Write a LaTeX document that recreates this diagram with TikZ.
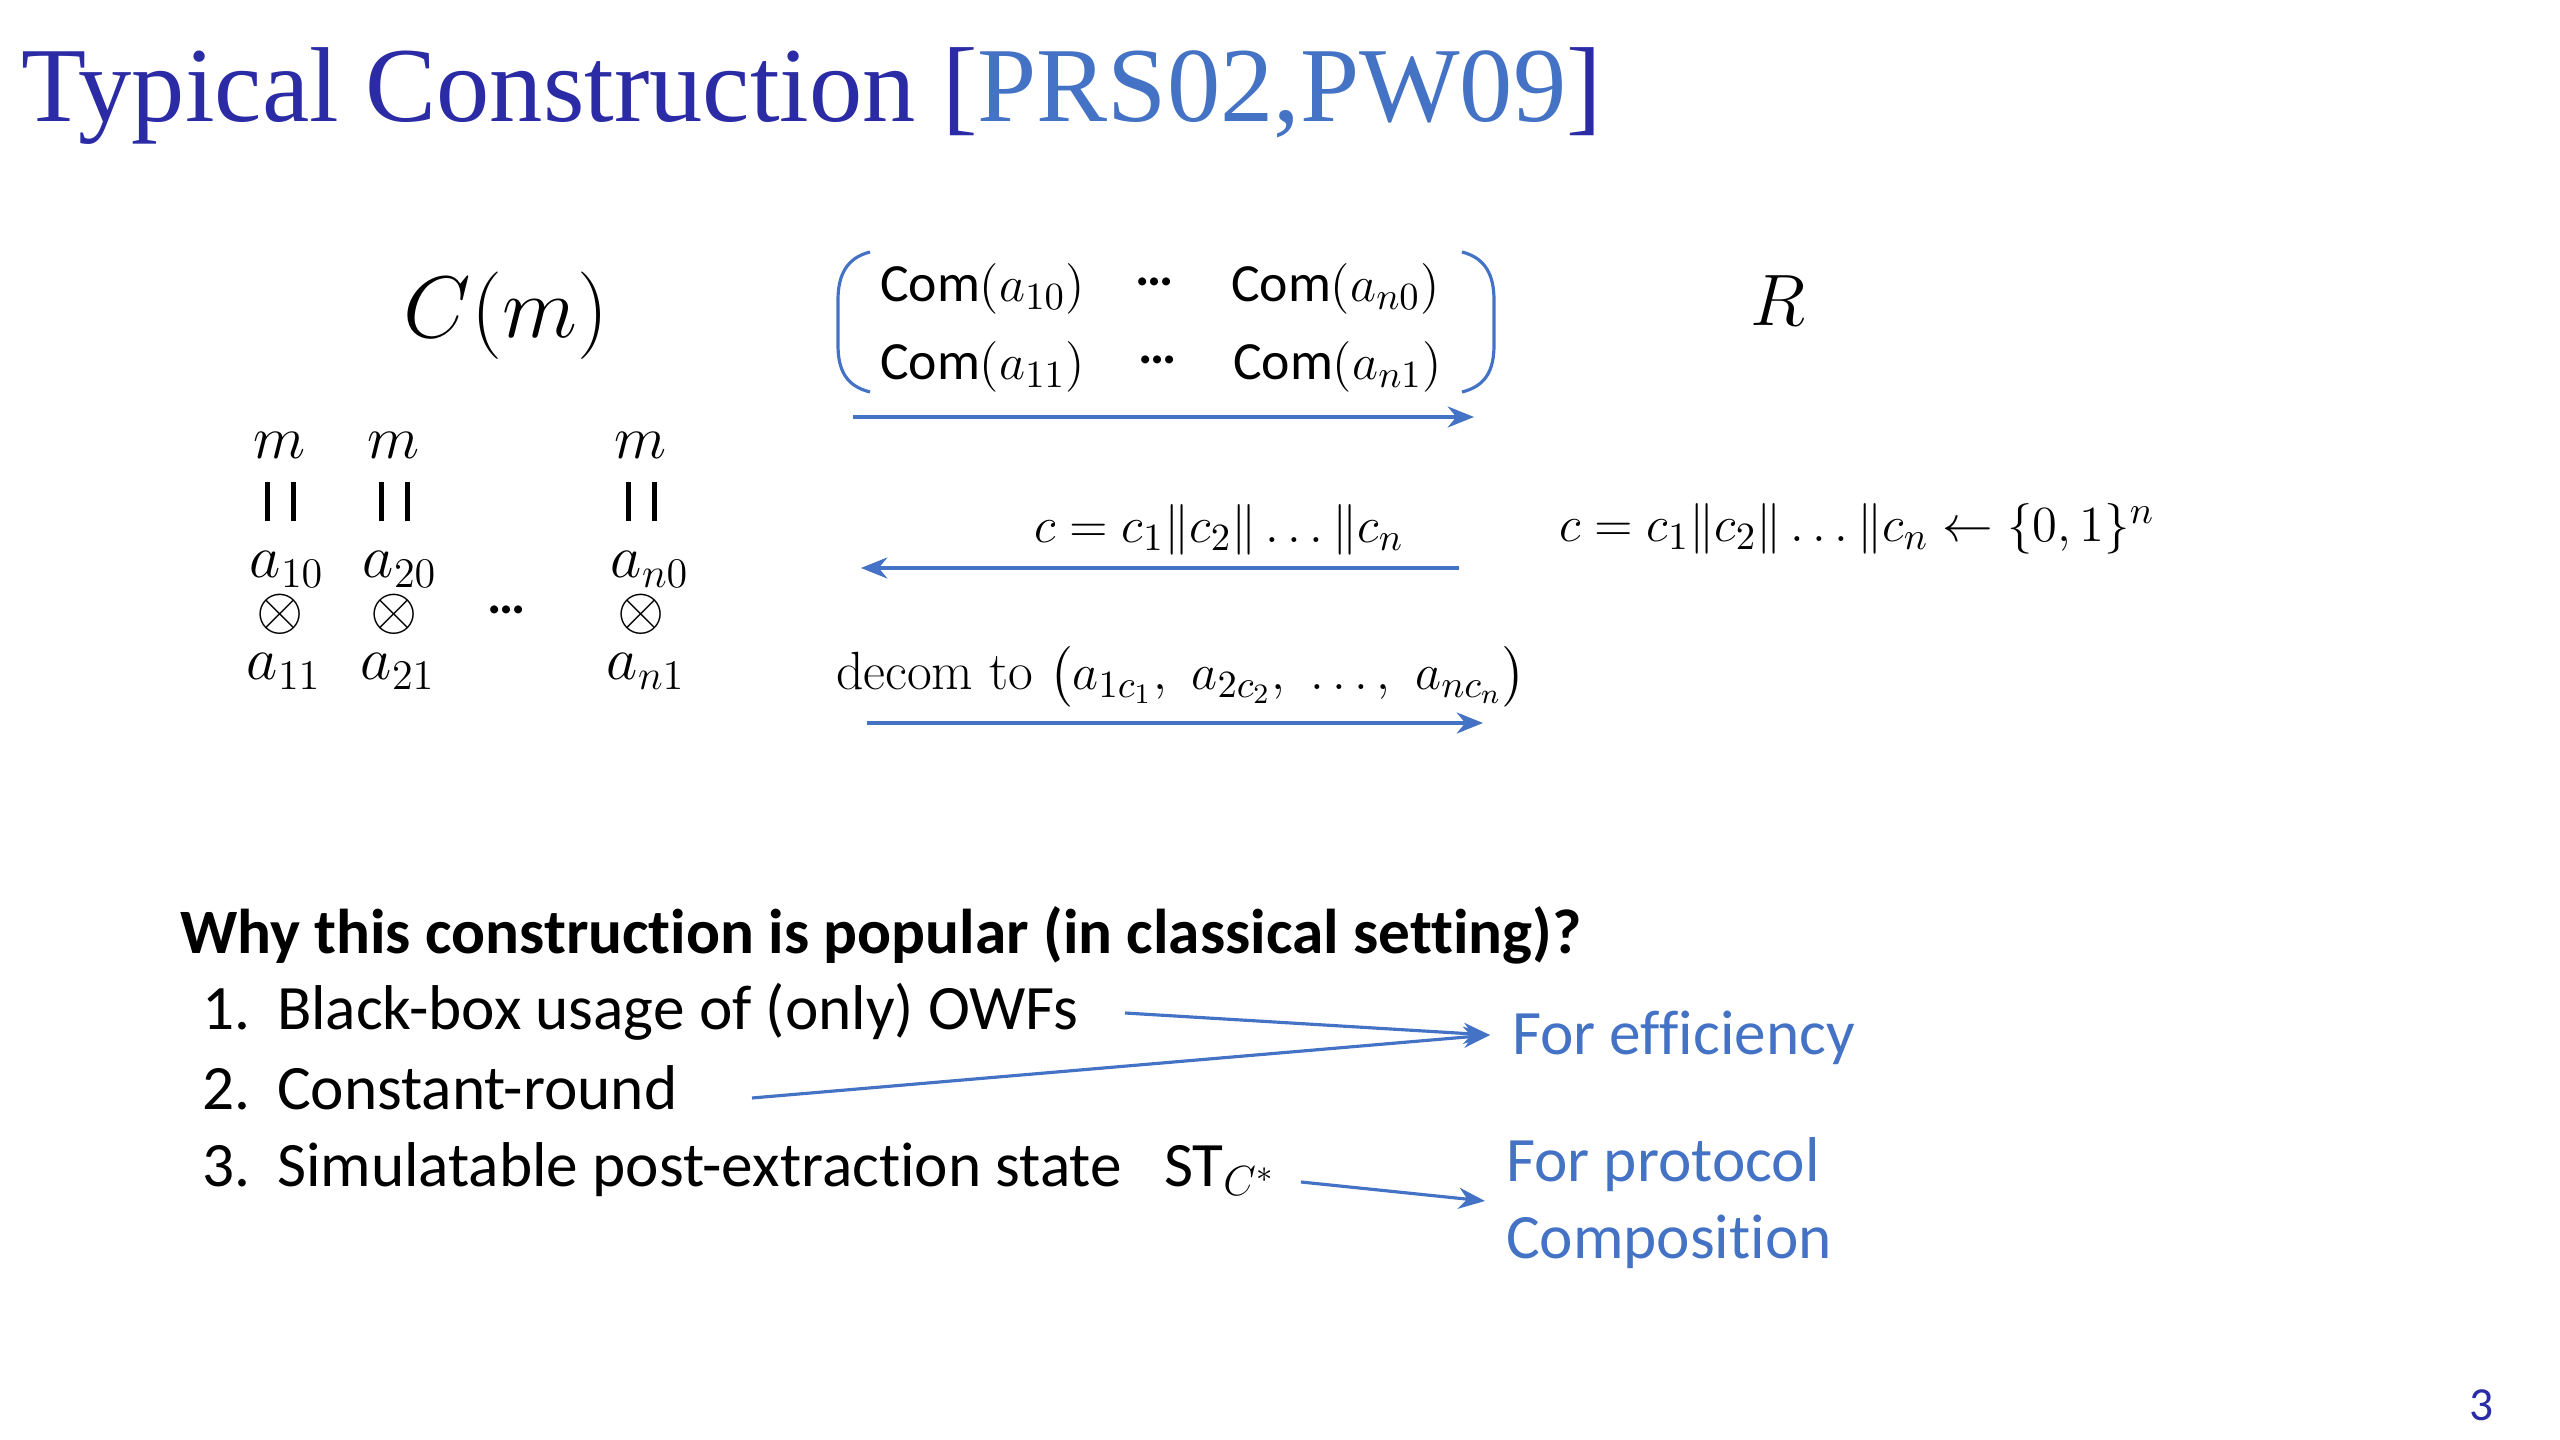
\documentclass[tikz,border=0pt]{standalone}
\usepackage[no-math]{fontspec}
\usepackage{amsmath}
\usetikzlibrary{arrows.meta}
\newfontfamily\titlefont{Liberation Serif}
\newfontfamily\calibfont[Ligatures={NoCommon}]{Carlito}
\definecolor{titleblue}{HTML}{2B2BA6}
\definecolor{refblue}{HTML}{4472C4}
\newcommand{\Com}{\text{\calibfont Com}}
\newcommand{\fsz}[1]{\fontsize{#1}{#1}\selectfont}
\newcommand{\mydots}{\raisebox{0.3em}{\calibfont\bfseries …}}
\begin{document}
\begin{tikzpicture}[x=0.1mm,y=-0.1mm,
  lbl/.style={inner sep=0pt, outer sep=0pt},
  col/.style={lbl, anchor=base, font=\fsz{17}},
  mid/.style={lbl, font=\fsz{15.3}},
  bottomtxt/.style={lbl, anchor=base west, font=\calibfont\fsz{18}},
  bluetxt/.style={bottomtxt, text=refblue},
  flow/.style={draw=refblue, line width=0.9pt, -{Stealth[length=7.5pt,width=6pt]}},
  brk/.style={draw=refblue, line width=0.9pt}]
\useasboundingbox (0,0) rectangle (2560,1440);

% title
\node[lbl, anchor=base west, font=\titlefont\fsz{30.3}, text=titleblue] (title) at (21,122)
  {Typical Construction [\textcolor{refblue}{PRS02,PW09}]};

% parties
\node[lbl, anchor=base, font=\fsz{23.5}] (cm) at (506,338) {$C(m)$};
\node[lbl, anchor=base, font=\fsz{21}] (r) at (1778,326) {$R$};

% commitment matrix
\node[mid, anchor=base west] (c10) at (880,302) {$\Com(a_{10})$};
\node[mid, anchor=base] (d0) at (1155,302) {\mydots};
\node[mid, anchor=base west] (cn0) at (1231,302) {$\Com(a_{n0})$};
\node[mid, anchor=base west] (c11) at (880,380) {$\Com(a_{11})$};
\node[mid, anchor=base] (d1) at (1158,380) {\mydots};
\node[mid, anchor=base west] (cn1) at (1233,380) {$\Com(a_{n1})$};
\draw[brk] (870,252) .. controls (846,258) and (838,276) .. (838,300) -- (838,345)
  .. controls (838,370) and (846,386) .. (870,392);
\draw[brk] (1462,252) .. controls (1486,258) and (1494,276) .. (1494,300) -- (1494,345)
  .. controls (1494,370) and (1486,386) .. (1462,392);

% column of shares
\foreach \x/\nm in {280/1,394/2,641/3} {
  \node[col] (m\nm) at (\x,459) {$m$};
  \node[lbl] (eq\nm) at (\x,502) {\rule{0.5mm}{3.9mm}\hspace{2.1mm}\rule{0.5mm}{3.9mm}};
  \node[lbl, anchor=base, font=\fsz{16.5}] (ot\nm) at (\x,630) {$\smash{\otimes}$};
}
\node[col] (a10) at (287,578) {$a_{10}$};
\node[col] (a20) at (400,578) {$a_{20}$};
\node[col] (an0) at (650,578) {$a_{n0}$};
\node[col] (a11) at (284,680) {$a_{11}$};
\node[col] (a21) at (398,680) {$a_{21}$};
\node[col] (an1) at (646,680) {$a_{n1}$};
\node[lbl, anchor=base, font=\fsz{15.3}] (cdots) at (507,630) {\mydots};

% messages
\coordinate (a1s) at (853,417);
\coordinate (a1e) at (1474,417);
\draw[flow] (a1s) -- (a1e);

\node[mid, anchor=base west] (chal) at (1034,543) {$c=c_1\|c_2\|\ldots\|c_n$};
\node[mid, anchor=base west] (samp) at (1559,542) {$c=c_1\|c_2\|\ldots\|c_n\leftarrow\{0,1\}^n$};
\coordinate (a2s) at (1459,568);
\coordinate (a2e) at (861,568);
\draw[flow] (a2s) -- (a2e);

\node[mid, anchor=base west] (decom) at (836,690)
  {decom to $\bigl(a_{1c_1},\ a_{2c_2},\ \ldots,\ a_{nc_n}\bigr)$};
\coordinate (a3s) at (867,723);
\coordinate (a3e) at (1483,723);
\draw[flow] (a3s) -- (a3e);

% bottom list
\node[bottomtxt, font=\calibfont\bfseries\fsz{18}] (why) at (180,954)
  {Why this construction is popular (in classical setting)?};
\node[bottomtxt] (n1) at (202,1030) {1.};
\node[bottomtxt] (i1) at (277,1030) {Black-box usage of (only) OWFs};
\node[bottomtxt] (n2) at (202,1109) {2.};
\node[bottomtxt] (i2) at (277,1109) {Constant-round};
\node[bottomtxt] (n3) at (202,1186) {3.};
\node[bottomtxt] (i3) at (277,1186) {Simulatable post-extraction state};
\node[bottomtxt] (st) at (1164,1186) {ST$_{C^*}$};

\node[bluetxt] (eff) at (1512,1055) {For efficiency};
\node[bluetxt] (prot) at (1506,1181) {For protocol};
\node[bluetxt] (comp) at (1506,1259) {Composition};

\coordinate (b1s) at (1125,1013);
\coordinate (b2s) at (752,1098);
\coordinate (bt) at (1490,1035);
\coordinate (b3s) at (1301,1182);
\coordinate (b3e) at (1485,1201);
\draw[flow] (b1s) -- (bt);
\draw[flow] (b2s) -- (bt);
\draw[flow] (b3s) -- (b3e);

% page number
\node[lbl, anchor=base, font=\calibfont\fsz{13.5}, text=titleblue] (page) at (2482,1420) {3};
\end{tikzpicture}
\end{document}
